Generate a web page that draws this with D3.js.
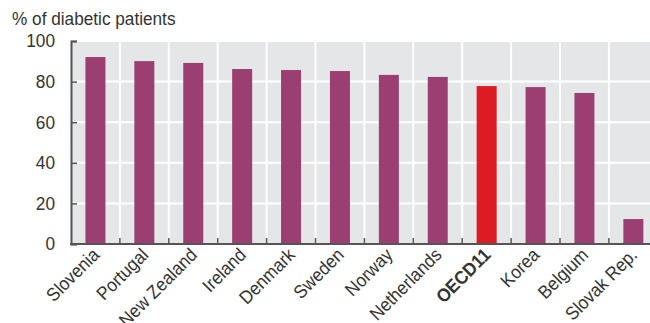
<!DOCTYPE html>
<html><head><meta charset="utf-8">
<script src="https://cdn.jsdelivr.net/npm/d3@7"></script>
<style>
html,body{margin:0;padding:0;background:#fff;}
svg text{font-family:"Liberation Sans Narrow","Arial Narrow","Liberation Sans",sans-serif;fill:#333;}
</style></head>
<body>
<svg id="chart" width="650" height="323"></svg>
<script>
const categories = ["Slovenia","Portugal","New Zealand","Ireland","Denmark","Sweden","Norway","Netherlands","OECD11","Korea","Belgium","Slovak Rep."];
const values = [92.1, 90.1, 89.2, 86.2, 85.7, 85.2, 83.3, 82.3, 77.8, 77.3, 74.4, 12.3];
const highlight = ["OECD11"];
const yTicks = [0, 20, 40, 60, 80, 100];
const yTitle = "% of diabetic patients";

const svg = d3.select("#chart");
const m = {left: 71, top: 41, right: 650, bottom: 244};
const bandW = 48.9;
const fs = 18.5, sx = 0.93;

const x = d3.scaleBand().domain(categories).range([m.left, m.left + bandW*categories.length]).paddingInner(0).paddingOuter(0);
const y = d3.scaleLinear().domain([0,100]).range([m.bottom, m.top]);

svg.append("rect").attr("x", m.left).attr("y", m.top).attr("width", m.right - m.left).attr("height", m.bottom - m.top).attr("fill", "#e5e6e8");

svg.append("g").selectAll("line").data(yTicks.filter(d=>d>0)).join("line")
  .attr("x1", m.left).attr("x2", m.right).attr("y1", d=>y(d)).attr("y2", d=>y(d))
  .attr("stroke", "#fff").attr("stroke-width", 2);
const bounds = categories.slice(1).map(c => x(c));
svg.append("g").selectAll("line").data(bounds).join("line")
  .attr("x1", d=>d).attr("x2", d=>d).attr("y1", m.top).attr("y2", m.bottom)
  .attr("stroke", "#fff").attr("stroke-width", 2);

const bw = 20;
svg.append("g").selectAll("rect").data(categories).join("rect")
  .attr("x", (d)=> x(d) + x.bandwidth()/2 - bw/2)
  .attr("width", bw)
  .attr("y", (d,i)=> y(values[i]))
  .attr("height", (d,i)=> y(0) - y(values[i]))
  .attr("fill", d => highlight.includes(d) ? "#dc1c22" : "#9b3f72");

const yAxis = d3.axisLeft(y).tickValues(yTicks).tickSize(-6).tickPadding(16);
const gy = svg.append("g").attr("transform", `translate(${m.left},0)`).call(yAxis);
gy.select(".domain").attr("stroke", "#555").attr("stroke-width", 2);
gy.selectAll(".tick line").attr("stroke", "#555").attr("stroke-width", 1.5);
gy.selectAll(".tick text").attr("font-size", fs).attr("fill", "#333").attr("font-family", null)
  .attr("x", -16/sx).attr("transform", `scale(${sx},1)`);

const xAxis = d3.axisBottom(x).tickSize(0).tickPadding(0);
const gx = svg.append("g").attr("transform", `translate(0,${m.bottom})`).call(xAxis);
gx.select(".domain").remove();
gx.selectAll(".tick text")
  .attr("font-size", fs).attr("fill", "#333").attr("font-family", null)
  .attr("text-anchor", "end")
  .attr("dy", null).attr("y", 0)
  .attr("transform", `translate(5,12) rotate(-45) scale(${sx},1)`)
  .attr("font-weight", d => highlight.includes(d) ? "bold" : null);
svg.append("g").selectAll("line").data(bounds).join("line")
  .attr("x1", d=>d).attr("x2", d=>d).attr("y1", m.bottom).attr("y2", m.bottom - 6)
  .attr("stroke", "#555").attr("stroke-width", 1.5);
svg.append("line").attr("x1", m.left - 1).attr("x2", m.right).attr("y1", m.bottom).attr("y2", m.bottom)
  .attr("stroke", "#555").attr("stroke-width", 2);

svg.append("text").attr("transform", `translate(12,25) scale(${sx},1)`).attr("font-size", fs).text(yTitle);
</script>
</body></html>
